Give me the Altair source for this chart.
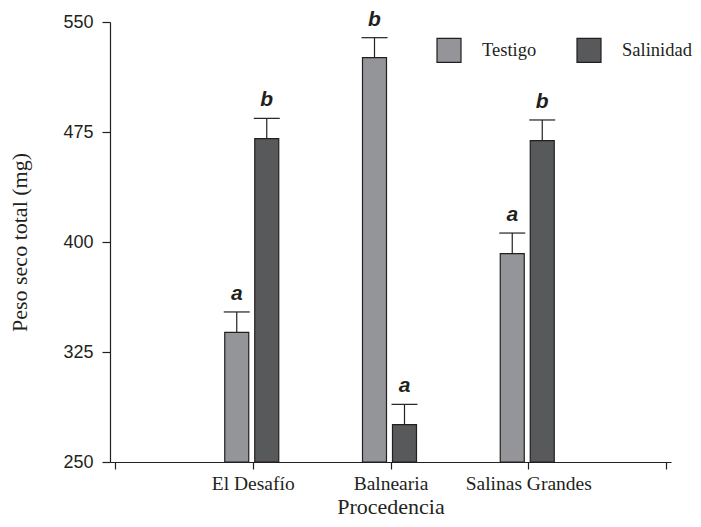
import altair as alt
import pandas as pd

# ---- data ----
procedencia = ["El Desafío", "Balnearia", "Salinas Grandes"]
posicion = [1, 2, 3]
tratamientos = ["Testigo", "Salinidad"]
testigo = [338.4, 525.7, 392.1]
salinidad = [470.5, 275.5, 469.1]
err_testigo = [13.9, 13.6, 14.0]
err_salinidad = [13.8, 13.8, 14.1]
letras_testigo = ["a", "b", "a"]
letras_salinidad = ["b", "a", "b"]
y_ticks = [250, 325, 400, 475, 550]
x_ticks = [0, 1, 2, 3, 4]

rows = []
for i, p in enumerate(procedencia):
    rows.append(dict(proc=p, pos=posicion[i], trat="Testigo", valor=testigo[i],
                     upper=testigo[i] + err_testigo[i], letra=letras_testigo[i]))
    rows.append(dict(proc=p, pos=posicion[i], trat="Salinidad", valor=salinidad[i],
                     upper=salinidad[i] + err_salinidad[i], letra=letras_salinidad[i]))
df = pd.DataFrame(rows)

SANS = "Liberation Sans"
SERIF = "Liberation Serif"

label_expr = ("datum.value == 1 ? 'El Desafío' : datum.value == 2 ? 'Balnearia' : "
              "datum.value == 3 ? 'Salinas Grandes' : ''")

x_enc = alt.X("pos:Q",
              scale=alt.Scale(domain=[0, 4], nice=False, zero=False),
              axis=alt.Axis(values=x_ticks, labelExpr=label_expr, title="Procedencia",
                            grid=False, domainColor="#231f20", tickColor="#231f20",
                            tickSize=7, labelFont=SERIF, labelFontSize=19.5,
                            labelColor="#231f20", labelPadding=5,
                            titleFont=SERIF, titleFontSize=22, titleFontWeight="normal",
                            titleColor="#231f20", titlePadding=4, labelFlush=False,
                            labelOverlap=False))
y_scale = alt.Scale(domain=[250, 550], nice=False, zero=False)
y_enc = alt.Y("valor:Q", scale=y_scale,
              axis=alt.Axis(values=y_ticks, title="Peso seco total (mg)", grid=False,
                            domainColor="#231f20", tickColor="#231f20", tickSize=8,
                            labelFont=SANS, labelFontSize=18, labelColor="#231f20",
                            labelPadding=9, titleFont=SERIF, titleFontSize=22,
                            titleFontWeight="normal", titleColor="#231f20",
                            titlePadding=31))

color = alt.Color("trat:N",
                  scale=alt.Scale(domain=tratamientos, range=["#939598", "#58595b"]),
                  legend=alt.Legend(title=None, orient="none", direction="horizontal",
                                    legendX=326, legendY=15, symbolType="square",
                                    symbolSize=576, symbolStrokeColor="#231f20",
                                    symbolStrokeWidth=1.2, symbolOpacity=1,
                                    labelFont=SERIF, labelFontSize=18.5,
                                    labelColor="#231f20", labelOffset=20,
                                    columnPadding=37, labelLimit=200))

offsets = {"Testigo": -16, "Salinidad": 14}

layers = []
for t in tratamientos:
    base = alt.Chart(df).transform_filter(alt.datum.trat == t)
    off = offsets[t]
    bars = base.mark_bar(size=24, xOffset=off, stroke="#231f20", strokeWidth=1.2).encode(
        x=x_enc, y=y_enc, y2=alt.datum(250), color=color)
    stem = base.mark_rule(xOffset=off, color="#231f20", strokeWidth=1.2).encode(
        x=x_enc, y=alt.Y("valor:Q", scale=y_scale), y2="upper:Q")
    cap = base.mark_rule(xOffset=off - 13, x2Offset=off + 13, color="#231f20",
                         strokeWidth=1.2).encode(
        x=x_enc, x2="pos:Q", y=alt.Y("upper:Q", scale=y_scale))
    txt = base.mark_text(xOffset=off, dy=-12, baseline="alphabetic", font=SANS,
                         fontSize=21, fontWeight="bold", fontStyle="italic",
                         color="#231f20").encode(
        x=x_enc, y=alt.Y("upper:Q", scale=y_scale), text="letra:N")
    layers += [bars, stem, cap, txt]

chart = alt.layer(*layers).properties(
    width=561, height=440,
    autosize=alt.AutoSizeParams(type="none"),
    padding={"left": 102, "top": 14, "right": 22, "bottom": 57},
).configure_view(stroke=None).configure_axis(domainWidth=1.2, tickWidth=1.2)

chart.save("out.html", embed_options={"renderer": "svg", "actions": False})
